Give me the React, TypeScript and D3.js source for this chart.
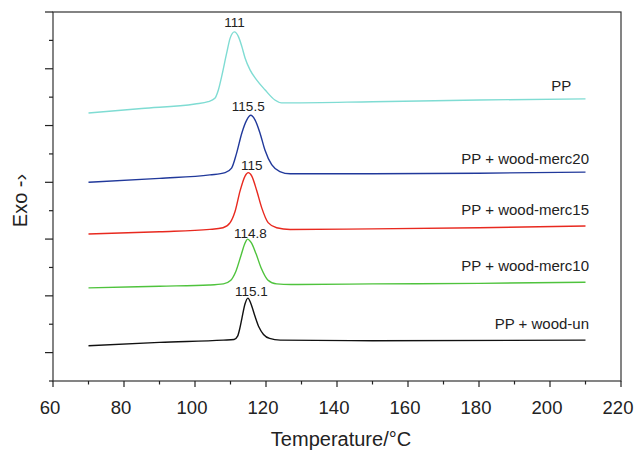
import * as d3 from 'd3';

// DSC cooling curves, offset vertically (temperature °C, heat flow a.u.)
const ppCurve: [number, number][] = [
  [70, 4.22], [85, 4.3], [100, 4.38], [103.7, 4.42], [105.6, 4.48], [106.6, 4.63],
  [107.5, 4.86], [108.9, 5.27], [109.9, 5.54], [111.1, 5.65], [112.2, 5.57],
  [113.2, 5.39], [114.1, 5.19], [115.5, 4.98], [117.4, 4.8], [119.7, 4.63],
  [122.5, 4.45], [124.4, 4.4], [126.8, 4.4], [150, 4.42], [180, 4.45], [210, 4.47],
];
const merc20Curve: [number, number][] = [
  [70, 3.0], [90, 3.07], [104.2, 3.13], [108.5, 3.17], [110.3, 3.25], [111.7, 3.51],
  [113.2, 3.87], [114.6, 4.1], [115.7, 4.18], [116.9, 4.1], [118.3, 3.87],
  [119.7, 3.57], [121.6, 3.31], [123.9, 3.19], [126.8, 3.15], [150, 3.15],
  [180, 3.16], [210, 3.18],
];
const merc15Curve: [number, number][] = [
  [70, 2.09], [90, 2.13], [104.2, 2.17], [107.9, 2.2], [109.9, 2.29], [111.3, 2.49],
  [112.7, 2.85], [114.1, 3.11], [115.0, 3.17], [116.0, 3.11], [117.4, 2.85],
  [118.8, 2.55], [120.6, 2.29], [123.0, 2.2], [126.8, 2.17], [150, 2.18],
  [180, 2.2], [210, 2.23],
];
const merc10Curve: [number, number][] = [
  [70, 1.14], [90, 1.17], [104, 1.19], [108, 1.21], [110, 1.27], [111.5, 1.43],
  [113, 1.72], [114.1, 1.93], [114.8, 2.0], [115.8, 1.94], [117.2, 1.74],
  [118.7, 1.48], [120.5, 1.28], [123, 1.21], [127, 1.2], [150, 1.21],
  [180, 1.22], [210, 1.24],
];
const unCurve: [number, number][] = [
  [70, 0.12], [90, 0.18], [108, 0.22], [111, 0.23], [112, 0.29], [112.6, 0.42],
  [113.2, 0.6], [114.1, 0.86], [114.9, 0.96], [115.7, 0.87], [116.9, 0.64],
  [118, 0.45], [119.3, 0.32], [121, 0.25], [124, 0.22], [150, 0.21], [210, 0.22],
];

const seriesNames = ['PP', 'PP + wood-merc20', 'PP + wood-merc15', 'PP + wood-merc10', 'PP + wood-un'];
const seriesColors = ['#7fdcd3', '#21399b', '#e8291f', '#4fc33d', '#111111'];
const seriesData = [ppCurve, merc20Curve, merc15Curve, merc10Curve, unCurve];
// where each series name sits (temperature, value)
const nameAnchors: [number, number][] = [[206, 4.61], [211, 3.33], [211, 2.42], [211, 1.43], [211, 0.42]];

// peak temperature labels
const peakTexts = ['111', '115.5', '115', '114.8', '115.1'];
const peakAnchors: [number, number][] = [[111.1, 5.74], [115.0, 4.25], [116.0, 3.21], [115.6, 2.02], [115.9, 1.0]];

const xTicks = [60, 80, 100, 120, 140, 160, 180, 200, 220];
const xMinorTicks = [70, 90, 110, 130, 150, 170, 190, 210];
const yTicks = [0, 1, 2, 3, 4, 5, 6];
const yMinorTicks = [-0.5, 0.5, 1.5, 2.5, 3.5, 4.5, 5.5];

const W = 634;
const H = 450;
const left = 53;
const right = 621;
const top = 12;
const bottom = 381;
const font = '"Liberation Sans", Arial, Helvetica, sans-serif';

export default function App() {
  const x = d3.scaleLinear().domain([60, 220]).range([left, right]);
  const y = d3.scaleLinear().domain([-0.5, 6]).range([bottom, top]);

  const line = d3.line<[number, number]>()
    .x(d => x(d[0]))
    .y(d => y(d[1]))
    .curve(d3.curveMonotoneX);

  return (
    <svg
      width={W}
      height={H}
      style={{ position: 'absolute', left: 0, top: 0, background: '#fff' }}
      fontFamily={font}
    >
      {/* frame */}
      <rect x={left} y={top} width={right - left} height={bottom - top} fill="none" stroke="#333" strokeWidth={1.2} />

      {/* x axis ticks */}
      {xTicks.map(t => (
        <g key={'xt' + t}>
          <line x1={x(t)} x2={x(t)} y1={bottom} y2={bottom + 6} stroke="#222" strokeWidth={1.2} />
          <text x={x(t) - 3} y={413.5} textAnchor="middle" fontSize={18.5} fill="#222">{t}</text>
        </g>
      ))}
      {xMinorTicks.map(t => (
        <line key={'xm' + t} x1={x(t)} x2={x(t)} y1={bottom} y2={bottom + 3.5} stroke="#222" strokeWidth={1.2} />
      ))}

      {/* y axis ticks (no labels) */}
      {yTicks.map(t => (
        <line key={'yt' + t} x1={left - 8} x2={left} y1={y(t)} y2={y(t)} stroke="#222" strokeWidth={1.2} />
      ))}
      {yMinorTicks.map(t => (
        <line key={'ym' + t} x1={left - 4} x2={left} y1={y(t)} y2={y(t)} stroke="#222" strokeWidth={1.2} />
      ))}

      {/* curves */}
      {seriesData.map((d, i) => (
        <path key={'c' + i} d={line(d) || ''} fill="none" stroke={seriesColors[i]} strokeWidth={1.4} />
      ))}

      {/* series names */}
      {seriesNames.map((n, i) => (
        <text key={'n' + i} x={x(nameAnchors[i][0])} y={y(nameAnchors[i][1])} textAnchor="end" fontSize={15} fill="#222">
          {n}
        </text>
      ))}

      {/* peak labels */}
      {peakTexts.map((p, i) => (
        <text key={'p' + i} x={x(peakAnchors[i][0])} y={y(peakAnchors[i][1])} textAnchor="middle" fontSize={13.5} fill="#222">
          {p}
        </text>
      ))}

      {/* axis titles */}
      <text x={(left + right) / 2 + 4} y={446} textAnchor="middle" fontSize={20} fill="#222">
        Temperature/°C
      </text>
      <text transform={`translate(27, ${(top + bottom) / 2 + 4}) rotate(-90)`} textAnchor="middle" fontSize={20} fill="#222">
        Exo -›
      </text>
    </svg>
  );
}
